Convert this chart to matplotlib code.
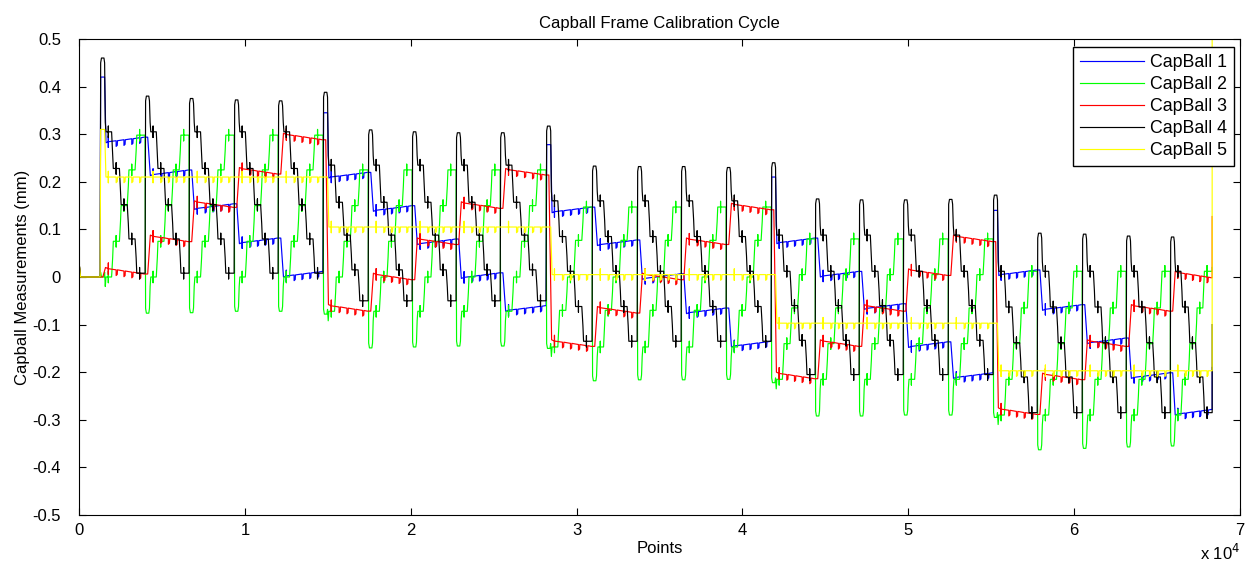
import numpy as np
import matplotlib.pyplot as plt

plt.rcParams["font.family"] = ["Liberation Sans", "DejaVu Sans"]
plt.rcParams["axes.unicode_minus"] = False

# start of each calibration step (points), read at every black peak
step_start = [1270, 3980, 6630, 9350, 12000,
              14710, 17430, 20080, 22730, 25390,
              28160, 30930, 33650, 36300, 39010,
              41730, 44380, 47030, 49690, 52400,
              55110, 57770, 60480, 63130, 65790]
data_end = 68320

# values before the first step and the spikes at start / end of the log
start_spike = 0.56
start_level = 0.0
end_jump = {"cb1": -0.19, "cb2": 0.02, "cb3": 0.127, "cb4": -0.1, "cb5": 0.56}

# CapBall 4 (black): peak of every step, staircase of each frame position
cb4_peak = [0.46, 0.38, 0.375, 0.372, 0.37,
            0.388, 0.309, 0.305, 0.303, 0.303,
            0.317, 0.233, 0.232, 0.232, 0.230,
            0.240, 0.164, 0.162, 0.162, 0.163,
            0.172, 0.092, 0.090, 0.086, 0.084]
cb4_stair = [[0.305, 0.228, 0.152, 0.08, 0.008],
             [0.235, 0.157, 0.088, 0.015, -0.05],
             [0.16, 0.085, 0.012, -0.062, -0.135],
             [0.088, 0.012, -0.06, -0.133, -0.205],
             [0.012, -0.063, -0.138, -0.21, -0.285]]

# CapBall 2 (green): trough of every step, staircase of each frame position
cb2_trough = [0.0, -0.076, -0.075, -0.072, -0.072,
              -0.078, -0.149, -0.147, -0.145, -0.145,
              -0.15, -0.218, -0.216, -0.216, -0.215,
              -0.222, -0.292, -0.292, -0.29, -0.29,
              -0.295, -0.363, -0.36, -0.357, -0.355]
cb2_stair = [[0.0, 0.075, 0.15, 0.225, 0.298],
             [-0.072, 0.0, 0.075, 0.15, 0.225],
             [-0.147, -0.07, 0.0, 0.077, 0.147],
             [-0.215, -0.14, -0.065, 0.005, 0.08],
             [-0.29, -0.215, -0.14, -0.065, 0.012]]

# CapBall 1 (blue) and CapBall 3 (red): one level per step
cb1_level = [0.282, 0.213, 0.142, 0.07, 0.0,
             0.208, 0.138, 0.068, -0.003, -0.072,
             0.135, 0.066, -0.005, -0.077, -0.147,
             0.07, 0.0, -0.068, -0.148, -0.213,
             0.003, -0.07, -0.14, -0.213, -0.29]
cb1_peak = [0.42, 0.345, 0.278, 0.21, 0.14]
cb1_drift = 0.012

cb3_level = [0.02, 0.088, 0.16, 0.23, 0.302,
             -0.058, 0.008, 0.082, 0.158, 0.228,
             -0.132, -0.062, 0.008, 0.082, 0.155,
             -0.2, -0.132, -0.058, 0.017, 0.088,
             -0.275, -0.202, -0.132, -0.058, 0.012]
cb3_drift = -0.014

# CapBall 5 (yellow): one level per frame position
cb5_level = [0.21, 0.105, 0.005, -0.097, -0.197]
cb5_bump = 0.31
cb5_drift = 0.0

# size of the small blips seen on every level
blip = 0.012


def head():
    return [0, 0, 90, 400], [start_spike, start_level + 0.03, start_level, start_level]


def stair_trace(extreme, stair, sign, last):
    t, v = head()
    prev = start_level
    for i, t0 in enumerate(step_start):
        t1 = step_start[i + 1] if i + 1 < len(step_start) else data_end
        L = t1 - t0
        st = stair[i // 5]
        t += [t0, t0 + 0.012 * L, t0 + 0.03 * L, t0 + 0.085 * L, t0 + 0.1 * L,
              t0 + 0.115 * L, t0 + 0.13 * L]
        v += [prev, extreme[i] - sign * 0.01, extreme[i], extreme[i],
              extreme[i] - sign * 0.01, st[0] + sign * 0.02, st[0]]
        D = 0.174 * L
        for j in range(5):
            a = t0 + 0.13 * L + j * D
            c = a + 0.3 * D
            t += [c, c, c, c]
            v += [st[j], st[j] + blip, st[j] - blip, st[j]]
            if j < 4:
                mid = (st[j] + st[j + 1]) / 2
                t += [a + 0.72 * D, a + 0.8 * D, a + 0.86 * D, a + 0.94 * D]
                v += [st[j], mid + sign * 0.012, mid - sign * 0.004, st[j + 1]]
            else:
                t += [t1 - 0.01 * L]
                v += [st[j]]
        prev = st[4]
    t += [data_end, data_end]
    v += [prev, last]
    return np.array(t), np.array(v)


def level_trace(level, peak, drift, last, per_frame=False):
    t, v = head()
    prev = start_level
    for i, t0 in enumerate(step_start):
        t1 = step_start[i + 1] if i + 1 < len(step_start) else data_end
        L = t1 - t0
        k = i // 5
        lv = level[k] if per_frame else level[i]
        if peak is not None and i % 5 == 0:
            pk = peak[k] if not np.isscalar(peak) else peak
            if per_frame and i > 0:
                pk = prev
            t += [t0, t0 + 0.012 * L, t0 + 0.1 * L, t0 + 0.13 * L]
            v += [prev, pk, pk, lv]
        else:
            t += [t0 + 0.06 * L, t0 + 0.12 * L]
            v += [prev, lv]
        D = 0.174 * L
        for j in range(5):
            c = t0 + 0.13 * L + (j + 0.3) * D
            base = lv + drift * (c - t0) / L
            if j == 0:
                t += [c, c, c, c]
                v += [base, base + blip, base - blip, base]
            else:
                t += [c, c, c + 0.025 * L, c + 0.03 * L]
                v += [base, base - blip, base - 0.8 * blip, base]
        prev = lv + drift * 0.98
        t += [t1 - 0.02 * L]
        v += [prev]
    t += [data_end, data_end]
    v += [prev, last]
    return np.array(t), np.array(v)


traces = [
    ("CapBall 1", "b", level_trace(cb1_level, cb1_peak, cb1_drift, end_jump["cb1"])),
    ("CapBall 2", "#00ff00", stair_trace(cb2_trough, cb2_stair, -1, end_jump["cb2"])),
    ("CapBall 3", "r", level_trace(cb3_level, None, cb3_drift, end_jump["cb3"])),
    ("CapBall 4", "k", stair_trace(cb4_peak, cb4_stair, 1, end_jump["cb4"])),
    ("CapBall 5", "#ffff00", level_trace(cb5_level, cb5_bump, cb5_drift,
                                         end_jump["cb5"], per_frame=True)),
]

fig = plt.figure(figsize=(12.45, 5.61), dpi=100)
ax = fig.add_axes([0.0635, 0.082, 0.9325, 0.8485])
for name, col, (t, v) in traces:
    ax.plot(t, v, color=col, lw=0.85, label=name)

ax.set_xlim(0, 70000)
ax.set_ylim(-0.5, 0.5)
ax.set_xticks(np.arange(0, 70001, 10000))
ax.set_xticklabels([str(i) for i in range(8)])
yt = np.round(np.arange(-0.5, 0.51, 0.1), 1)
ax.set_yticks(yt)
ax.set_yticklabels(["%g" % (y + 0.0) if abs(y) > 1e-9 else "0" for y in yt])
ax.tick_params(direction="in", top=True, right=True, length=5, labelsize=12)
ax.tick_params(axis="x", pad=6)
ax.tick_params(axis="y", pad=13)
ax.set_title("Capball Frame Calibration Cycle", fontsize=12, pad=8)
ax.set_xlabel("Points", fontsize=12, labelpad=2)
ax.set_ylabel("Capball Measurements (mm)", fontsize=12, labelpad=2)
ax.text(1.0, -0.08, r"x 10$^{4}$", transform=ax.transAxes, ha="right",
        va="center", fontsize=12)
leg = ax.legend(loc="upper right", bbox_to_anchor=(0.9948, 0.983), fontsize=12.8,
                fancybox=False, edgecolor="k", framealpha=1, handlelength=3.6,
                borderaxespad=0, labelspacing=0.28, borderpad=0.4,
                handletextpad=0.35)
leg.get_frame().set_linewidth(1.0)

fig.savefig("out.png", dpi=100)
